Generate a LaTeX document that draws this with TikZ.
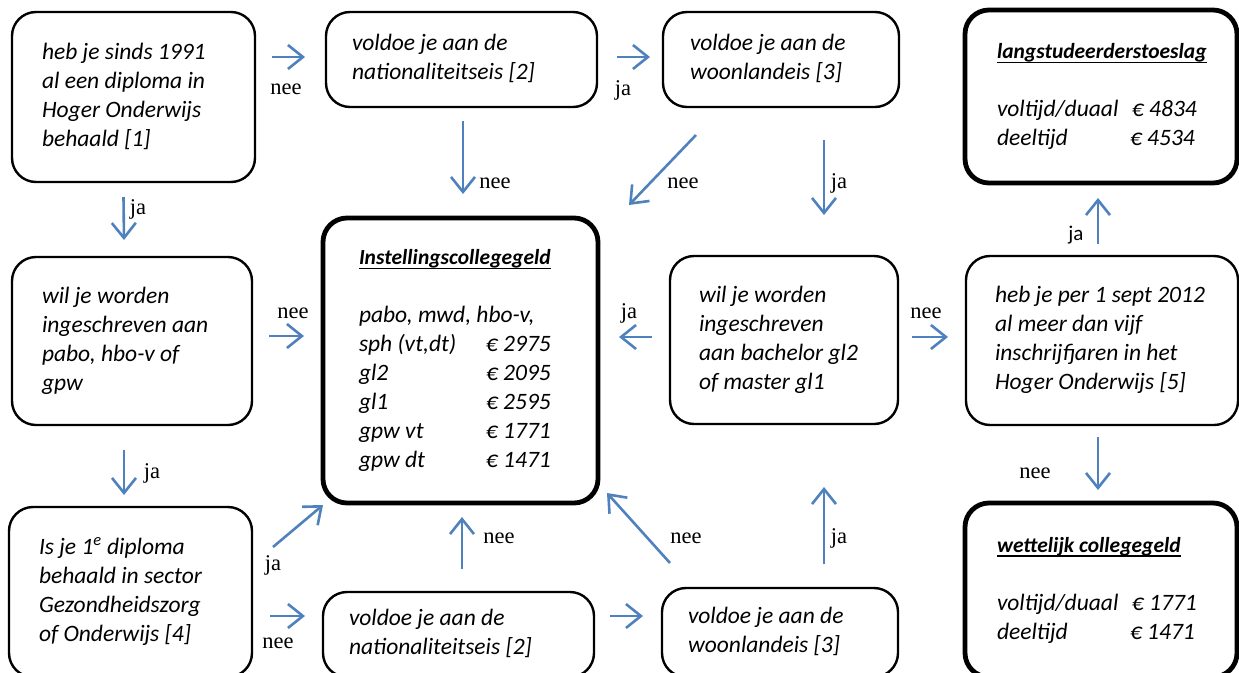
\documentclass[tikz,border=0pt]{standalone}
\usepackage{fontspec}
\newfontfamily\boxfont{Carlito}
\newfontfamily\labfont{Liberation Serif}
\usetikzlibrary{arrows.meta}
\definecolor{blauw}{RGB}{79,129,189}
\tikzstyle{box}=[draw,rounded corners=24pt,line width=2.4pt,outer sep=0pt,inner sep=0pt,font=\boxfont\itshape\fontsize{23.5}{29}\selectfont]
\tikzstyle{dik}=[box,line width=4.8pt]
\tikzstyle{pijl}=[draw=blauw,line width=2.6pt,-{Straight Barb[length=15pt,width=24pt]}]
\tikzstyle{lab}=[font=\labfont\fontsize{22.5}{26}\selectfont,inner sep=0pt]
\newcommand{\tekst}[2]{\makebox[#1pt][l]{\begin{tabular}{@{}l@{}}#2\end{tabular}}}
\newcommand{\kop}[1]{\setbox0\hbox{\bfseries\fontsize{21.5}{29}\selectfont #1}\rlap{\rule[-4.5pt]{\wd0}{1.6pt}}\box0}
\newcommand{\bedrag}[3]{\makebox[#1][l]{#2}\texteuro\ #3}

\begin{document}
\begin{tikzpicture}[x=1pt,y=-1pt]
\useasboundingbox (0,0) rectangle (1239,672);
\clip (0,0) rectangle (1239,672);
% vragen
\node[box,minimum width=243,minimum height=170] (A) at (133.5,97) {\tekst{183}{heb je sinds 1991\\al een diploma in\\Hoger Onderwijs\\behaald [1]}};
\node[box,minimum width=271,minimum height=95] (B) at (461.5,59.5) {\tekst{219}{voldoe je aan de\\nationaliteitseis [2]}};
\node[box,minimum width=236,minimum height=95] (C) at (781,59.5) {\tekst{182}{voldoe je aan de\\woonlandeis [3]}};
\node[box,minimum width=240,minimum height=168] (E) at (132,341) {\tekst{180}{wil je worden\\ingeschreven aan\\pabo, hbo-v of\\gpw}};
\node[box,minimum width=228,minimum height=168] (G) at (784,340) {\tekst{170}{wil je worden\\ingeschreven\\aan bachelor gl2\\of master gl1}};
\node[box,minimum width=272,minimum height=169] (H) at (1102,340.5) {\tekst{214}{heb je per 1 sept 2012\\al meer dan vijf\\inschrijfjaren in het\\Hoger Onderwijs [5]}};
\node[box,minimum width=243,minimum height=170] (I) at (130.5,592) {\tekst{183}{Is je 1\textsuperscript{e} diploma\\behaald in sector\\Gezondheidszorg\\of Onderwijs [4]}};
\node[box,minimum width=271,minimum height=85] (J) at (458.5,634.5) {\tekst{219}{voldoe je aan de\\nationaliteitseis [2]}};
\node[box,minimum width=236,minimum height=89] (K) at (780,632.5) {\tekst{184}{voldoe je aan de\\woonlandeis [3]}};
% uitkomsten
\node[dik,minimum width=272,minimum height=173] (D) at (1101,96.5) {\tekst{208}{\kop{langstudeerderstoeslag}\\ \\\bedrag{135pt}{voltijd/duaal}{4834}\\\bedrag{133pt}{deeltijd}{4534}}};
\node[dik,minimum width=275,minimum height=285] (F) at (460.5,360.5) {\tekst{203}{\kop{Instellingscollegegeld}\\ \\pabo, mwd, hbo-v,\\\bedrag{127pt}{sph (vt,dt)}{2975}\\\bedrag{127pt}{gl2}{2095}\\\bedrag{127pt}{gl1}{2595}\\\bedrag{127pt}{gpw vt}{1771}\\\bedrag{127pt}{gpw dt}{1471}}};
\node[dik,minimum width=272,minimum height=174] (L) at (1101,590) {\tekst{208}{\kop{wettelijk collegegeld}\\ \\\bedrag{135pt}{voltijd/duaal}{1771}\\\bedrag{133pt}{deeltijd}{1471}}};
% pijlen
\draw[pijl] ([shift={(17,-2.5)}]A.east |- B.west) -- ([shift={(-21,-2.5)}]B.west);
\draw[pijl] ([shift={(20,-2.5)}]B.east) -- ([shift={(-13,-2.5)}]C.west);
\draw[pijl] ([shift={(1.5,14)}]B.south) -- ([shift={(1.5,-24)}]B.south |- F.north);
\draw[pijl] ([shift={(33,28)}]C.south west) -- ([shift={(31,-13)}]F.north east);
\draw[pijl] ([shift={(43,33)}]C.south) -- ([shift={(40,-41)}]G.north);
\draw[pijl] ([shift={(-10,15)}]A.south) -- ([shift={(-8,-17)}]E.north);
\draw[pijl] ([shift={(17,-5)}]E.east) -- ([shift={(-19,-24.5)}]F.west);
\draw[pijl] ([shift={(-18,-3)}]G.west) -- ([shift={(21,-23.5)}]F.east);
\draw[pijl] ([shift={(14,-3)}]G.east) -- ([shift={(-18,-3.5)}]H.west);
\draw[pijl] ([shift={(-4,-12)}]H.north) -- ([shift={(-3,15)}]D.south);
\draw[pijl] ([shift={(-4,12)}]H.south) -- ([shift={(-3,-13)}]L.north);
\draw[pijl] ([shift={(-8,25)}]E.south) -- ([shift={(-6.5,-12)}]I.north);
\draw[pijl] ([shift={(21,40)}]I.north east) -- ([shift={(0,2)}]F.south west);
\draw[pijl] ([shift={(18,24)}]I.east) -- ([shift={(-18,-18.5)}]J.west);
\draw[pijl] ([shift={(3.5,-23)}]J.north) -- ([shift={(1.5,14)}]F.south);
\draw[pijl] ([shift={(8,-25)}]K.north west) -- ([shift={(9,-10)}]F.south east);
\draw[pijl] ([shift={(44,-24)}]K.north) -- ([shift={(40,63)}]G.south);
\draw[pijl] ([shift={(16,-18.5)}]J.east) -- ([shift={(-19,-16.5)}]K.west);
% labels
\node[lab] (ab) at (286,89) {nee};
\node[lab] (bc) at (623,90) {ja};
\node[lab] (bf) at (495,183) {nee};
\node[lab] (cf) at (683,183) {nee};
\node[lab] (cg) at (839,183) {ja};
\node[lab] (ae) at (138,209) {ja};
\node[lab] (ef) at (293,313) {nee};
\node[lab] (gf) at (629,313) {ja};
\node[lab] (gh) at (926,313) {nee};
\node[lab,font=\boxfont\fontsize{21}{25}\selectfont] (hd) at (1076,235) {ja};
\node[lab] (hl) at (1035,473) {nee};
\node[lab] (ei) at (152,473) {ja};
\node[lab] (if) at (273,565) {ja};
\node[lab] (ij) at (278,643) {nee};
\node[lab] (jf) at (499,538) {nee};
\node[lab] (kf) at (686,538) {nee};
\node[lab] (kg) at (839,538) {ja};
\end{tikzpicture}
\end{document}
